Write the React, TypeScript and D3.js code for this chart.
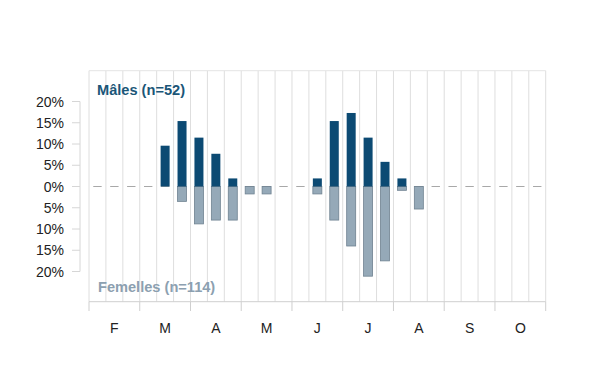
import React from "react";
import * as d3 from "d3";

const months = ["F", "M", "A", "M", "J", "J", "A", "S", "O"];
const weeksPerMonth = 3;
// percent per week (27 weeks: Feb..Oct, 3 per month)
const males = [0, 0, 0, 0, 9.6, 15.4, 11.5, 7.7, 1.9, 0, 0, 0, 0, 1.9, 15.4, 17.3, 11.5, 5.8, 1.9, 0, 0, 0, 0, 0, 0, 0, 0];
const females = [0, 0, 0, 0, 0, 3.5, 8.8, 7.9, 7.9, 1.75, 1.75, 0, 0, 1.75, 7.9, 14.0, 21.1, 17.5, 0.9, 5.3, 0, 0, 0, 0, 0, 0, 0];
const yTicks = [20, 15, 10, 5, 0, -5, -10, -15, -20];
const maleLabel = "Mâles (n=52)";
const femaleLabel = "Femelles (n=114)";

export default function App() {
  const W = 600, H = 390;
  const left = 89, right = 545.7, top = 70.7, axisY = 301.7;
  const nWeeks = months.length * weeksPerMonth;
  const x = d3.scaleLinear().domain([0, nWeeks]).range([left, right]);
  const y = d3.scaleLinear().domain([-20, 20]).range([271.5, 101.5]);
  const colW = x(1) - x(0);
  const barW = 9;
  const font = "Liberation Sans, Arial, sans-serif";
  const weeks = d3.range(nWeeks);
  return (
    <svg width={W} height={H} style={{ position: "absolute", left: 0, top: 0 }} fontFamily={font}>
      <rect width={W} height={H} fill="#fff" />
      {d3.range(nWeeks + 1).map((i) => (
        <line key={"g" + i} x1={x(i)} x2={x(i)} y1={top} y2={axisY} stroke="#dedede" strokeWidth={1} />
      ))}
      <line x1={left} x2={right} y1={top} y2={top} stroke="#e4e4e4" />
      <line x1={left} x2={right} y1={axisY} y2={axisY} stroke="#cfcfcf" />
      {d3.range(months.length + 1).map((m) => (
        <line key={"t" + m} x1={x(m * weeksPerMonth)} x2={x(m * weeksPerMonth)} y1={axisY} y2={311} stroke="#cfcfcf" />
      ))}
      {months.map((m, i) => (
        <text key={"m" + i} x={x(i * weeksPerMonth + 1.5)} y={333} textAnchor="middle" fontSize={14} fill="#222">{m}</text>
      ))}
      <line x1={80} x2={80} y1={y(20)} y2={y(-20)} stroke="#d6d6d6" />
      {yTicks.map((t) => (
        <g key={"y" + t}>
          <line x1={72} x2={80} y1={y(t)} y2={y(t)} stroke="#d6d6d6" />
          <text x={64} y={y(t) + 5} textAnchor="end" fontSize={14} fill="#222">{Math.abs(t) + "%"}</text>
        </g>
      ))}
      {weeks.map((i) => (
        <line key={"z" + i} x1={x(i) + colW / 2 - 4.2} x2={x(i) + colW / 2 + 4.2} y1={y(0)} y2={y(0)} stroke="#a8a8a8" strokeWidth={1} />
      ))}
      {weeks.filter((i) => females[i] > 0).map((i) => (
        <rect key={"f" + i} x={x(i) + colW / 2 - barW / 2} y={y(0)} width={barW} height={y(-females[i]) - y(0)}
          fill="#95a9b8" stroke="#6f8291" strokeWidth={0.8} />
      ))}
      {weeks.filter((i) => males[i] > 0).map((i) => (
        <rect key={"ma" + i} x={x(i) + colW / 2 - barW / 2} y={y(males[i])} width={barW} height={y(0) - y(males[i])}
          fill="#0c4a73" />
      ))}
      <text x={97} y={95} fontSize={14.6} fontWeight="bold" fill="#1b5678">{maleLabel}</text>
      <text x={98} y={292} fontSize={14.6} fontWeight="bold" fill="#8ca0b0">{femaleLabel}</text>
    </svg>
  );
}
